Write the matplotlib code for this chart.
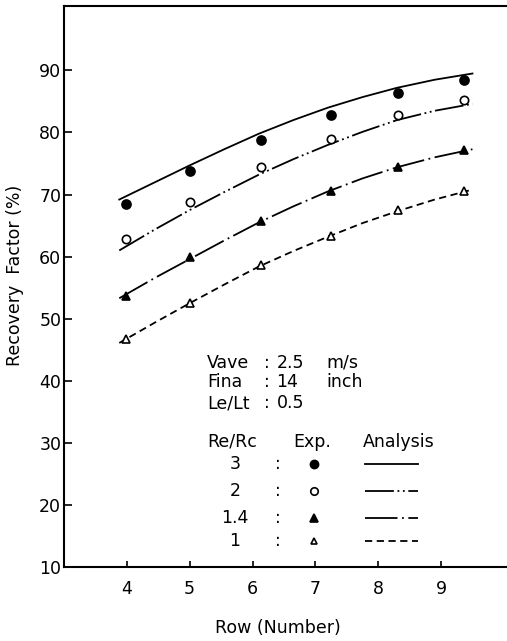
import matplotlib
matplotlib.use("Agg")
import matplotlib.pyplot as plt
from matplotlib.lines import Line2D

plt.rcParams['font.family'] = ['DejaVu Sans']

# experimental points (Row number vs recovery factor %)
exp_rows = [3.98, 5.01, 6.13, 7.25, 8.31, 9.37]
exp_re3 = [68.5, 73.8, 78.8, 82.8, 86.3, 88.4]
exp_re2 = [62.9, 68.8, 74.5, 79.0, 82.8, 85.3]
exp_re14 = [53.6, 59.9, 65.7, 70.6, 74.5, 77.2]
exp_re1 = [46.7, 52.6, 58.7, 63.3, 67.5, 70.6]

# analysis curves
ana_rows = [3.88, 4.45, 5.0, 5.55, 6.1, 6.65, 7.2, 7.75, 8.3, 8.9, 9.5]
ana_re3 = [69.2, 72.0, 74.7, 77.3, 79.8, 82.0, 84.0, 85.7, 87.2, 88.5, 89.5]
ana_re2 = [61.0, 64.4, 67.5, 70.4, 73.2, 75.7, 78.0, 80.1, 82.0, 83.5, 84.6]
ana_re14 = [53.3, 56.6, 59.6, 62.6, 65.5, 68.1, 70.5, 72.6, 74.4, 76.0, 77.3]
ana_re1 = [46.1, 49.4, 52.5, 55.5, 58.4, 60.9, 63.2, 65.4, 67.3, 69.2, 70.8]

ratio_labels = ["3", "2", "1.4", "1"]
x_ticks = [4, 5, 6, 7, 8, 9]
y_ticks = [10, 20, 30, 40, 50, 60, 70, 80, 90]

LW = 1.3
STYLES = [
    dict(marker="o", mfc="black", ms=6.5, ls="-"),
    dict(marker="o", mfc="white", ms=6.0, ls=(0, (16, 2, 1, 2, 1, 2))),
    dict(marker="^", mfc="black", ms=6.0, ls=(0, (18, 2.5, 1, 2.5))),
    dict(marker="^", mfc="white", ms=5.5, ls=(0, (4, 2.5))),
]

series = [
    (exp_re3, ana_re3),
    (exp_re2, ana_re2),
    (exp_re14, ana_re14),
    (exp_re1, ana_re1),
]

FS = 12.5

fig = plt.figure(figsize=(5.07, 6.41), dpi=100)
ax = fig.add_axes([0.1262, 0.1154, 0.8738, 0.8745])

for (exp_y, ana_y), st in zip(series, STYLES):
    ax.plot(ana_rows, ana_y, color="black", lw=LW, ls=st["ls"])
    ax.plot(exp_rows, exp_y, ls="none", marker=st["marker"], ms=st["ms"],
            mfc=st["mfc"], mec="black", mew=1.2)

ax.set_xlim(3, 10.05)
ax.set_ylim(10, 100.3)
ax.set_xticks(x_ticks)
ax.set_yticks(y_ticks)
ax.tick_params(axis="x", direction="in", length=4, width=1.2, pad=9, labelsize=FS)
ax.tick_params(axis="y", direction="in", length=6, width=1.2, pad=2, labelsize=FS)
for side in ["left", "bottom", "top"]:
    ax.spines[side].set_linewidth(1.5)
ax.spines["right"].set_visible(False)

ax.set_xlabel("Row (Number)", fontsize=FS)
ax.set_ylabel("Recovery  Factor (%)", fontsize=FS)
ax.xaxis.set_label_coords(0.482, -0.092)
ax.yaxis.set_label_coords(-0.09, 0.52)

# condition block
conds = [("Vave", "2.5", "m/s"), ("Fina", "14", "inch"), ("Le/Lt", "0.5", "")]
cond_y = [42.9, 39.8, 36.4]
for (name, val, unit), yy in zip(conds, cond_y):
    ax.text(5.28, yy, name, fontsize=FS, va="center", ha="left")
    ax.text(6.18, yy, ":", fontsize=FS, va="center", ha="left")
    ax.text(6.38, yy, val, fontsize=FS, va="center", ha="left")
    if unit:
        ax.text(7.17, yy, unit, fontsize=FS, va="center", ha="left")

# legend block
ax.text(5.28, 30.2, "Re/Rc", fontsize=FS, va="center", ha="left")
ax.text(6.95, 30.2, "Exp.", fontsize=FS, va="center", ha="center")
ax.text(7.75, 30.2, "Analysis", fontsize=FS, va="center", ha="left")
leg_y = [26.6, 22.3, 17.9, 14.2]
for lab, yy, st in zip(ratio_labels, leg_y, STYLES):
    ax.text(5.72, yy, lab, fontsize=FS, va="center", ha="center")
    ax.text(6.41, yy, ":", fontsize=FS, va="center", ha="center")
    ax.add_line(Line2D([6.98], [yy], ls="none", marker=st["marker"],
                       ms=st["ms"] * 0.9, mfc=st["mfc"], mec="black", mew=1.2))
    ax.add_line(Line2D([7.79, 8.64], [yy, yy], color="black", lw=LW, ls=st["ls"]))

fig.savefig("out.png", dpi=100)
